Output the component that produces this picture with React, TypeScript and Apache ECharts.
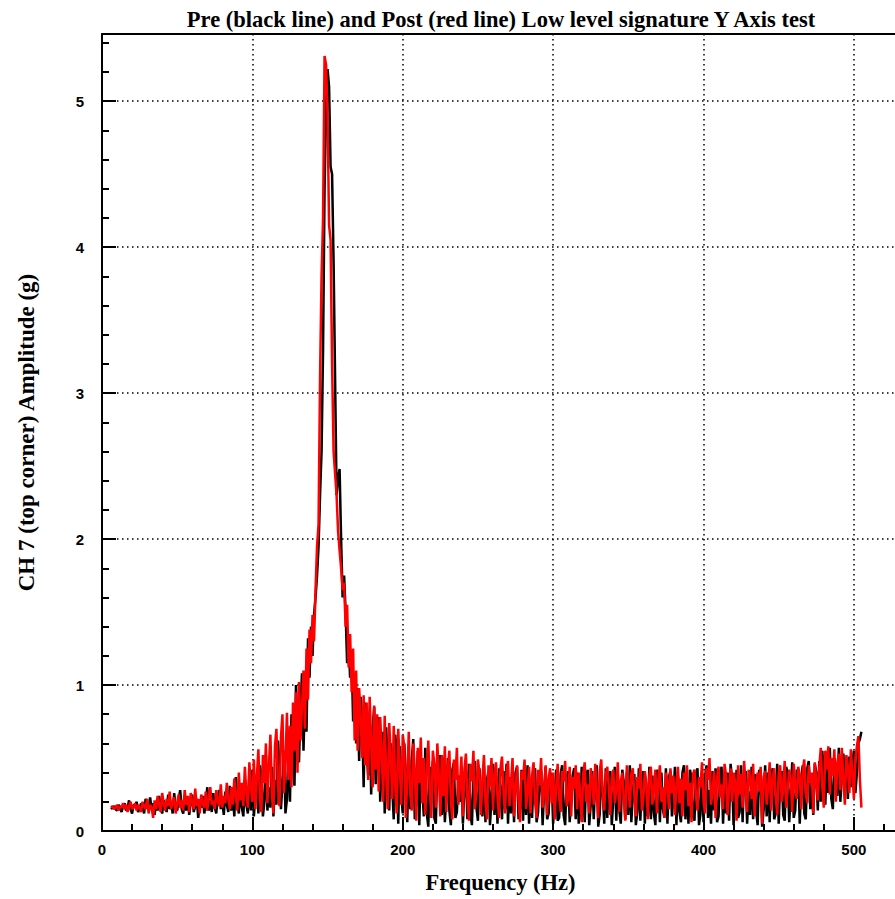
import React, { useEffect, useRef } from "react";
import * as echarts from "echarts";

// Sampling grid of the spectrum (Hz): one value per Hz from 6 Hz
const FREQ_START = 6;
const FREQ_STEP = 1;

// Pre test (black line) amplitude, g
const PRE = [
  0.15, 0.16, 0.17, 0.15, 0.14, 0.18, 0.16, 0.13, 0.17, 0.19,
  0.14, 0.16, 0.21, 0.15, 0.12, 0.18, 0.17, 0.20, 0.13, 0.15,
  0.19, 0.16, 0.12, 0.22, 0.18, 0.14, 0.23, 0.15, 0.19, 0.11,
  0.20, 0.14, 0.24, 0.16, 0.12, 0.21, 0.17, 0.13, 0.25, 0.15,
  0.19, 0.12, 0.26, 0.16, 0.14, 0.22, 0.28, 0.15, 0.12, 0.21,
  0.14, 0.23, 0.11, 0.19, 0.25, 0.13, 0.17, 0.22, 0.09, 0.20,
  0.16, 0.24, 0.12, 0.18, 0.30, 0.14, 0.21, 0.13, 0.26, 0.16,
  0.12, 0.24, 0.28, 0.15, 0.20, 0.11, 0.27, 0.18, 0.13, 0.31,
  0.14, 0.25, 0.10, 0.37, 0.20, 0.12, 0.30, 0.16, 0.10, 0.35,
  0.18, 0.12, 0.38, 0.14, 0.42, 0.10, 0.25, 0.36, 0.12, 0.45,
  0.38, 0.10, 0.20, 0.52, 0.14, 0.30, 0.16, 0.44, 0.10, 0.35,
  0.18, 0.62, 0.45, 0.15, 0.33, 0.55, 0.12, 0.22, 0.60, 0.20,
  0.80, 0.45, 0.31, 1.00, 0.60, 0.47, 0.85, 1.08, 0.55, 0.95,
  0.68, 1.32, 1.05, 1.40, 1.20, 1.48, 1.60, 1.75, 1.95, 2.30,
  2.60, 3.30, 4.40, 4.95, 5.22, 5.10, 4.55, 4.50, 3.90, 3.10,
  2.30, 2.42, 2.48, 2.00, 1.60, 1.75, 1.50, 1.15, 1.30, 1.05,
  1.20, 0.75, 1.05, 0.60, 0.98, 0.48, 0.92, 0.75, 0.30, 0.88,
  0.55, 0.38, 0.80, 0.25, 0.70, 0.85, 0.32, 0.60, 0.78, 0.20,
  0.48, 0.68, 0.12, 0.71, 0.40, 0.14, 0.60, 0.30, 0.08, 0.66,
  0.52, 0.05, 0.58, 0.25, 0.12, 0.60, 0.40, 0.06, 0.52, 0.15,
  0.48, 0.63, 0.08, 0.20, 0.55, 0.04, 0.46, 0.30, 0.10, 0.57,
  0.12, 0.03, 0.44, 0.22, 0.48, 0.09, 0.05, 0.45, 0.33, 0.52,
  0.11, 0.40, 0.06, 0.25, 0.50, 0.14, 0.04, 0.42, 0.47, 0.09,
  0.13, 0.38, 0.20, 0.44, 0.05, 0.30, 0.41, 0.08, 0.46, 0.12,
  0.04, 0.39, 0.48, 0.16, 0.07, 0.43, 0.26, 0.10, 0.45, 0.06,
  0.35, 0.41, 0.04, 0.22, 0.46, 0.11, 0.37, 0.05, 0.43, 0.29,
  0.08, 0.41, 0.15, 0.46, 0.05, 0.37, 0.12, 0.43, 0.06, 0.40,
  0.44, 0.08, 0.15, 0.42, 0.07, 0.38, 0.11, 0.45, 0.05, 0.33,
  0.09, 0.39, 0.43, 0.06, 0.13, 0.36, 0.41, 0.04, 0.28, 0.44,
  0.08, 0.12, 0.40, 0.37, 0.05, 0.24, 0.42, 0.07, 0.09, 0.39,
  0.45, 0.11, 0.04, 0.36, 0.41, 0.06, 0.20, 0.38, 0.43, 0.08,
  0.40, 0.05, 0.13, 0.44, 0.30, 0.06, 0.37, 0.42, 0.04, 0.18,
  0.41, 0.08, 0.35, 0.45, 0.03, 0.12, 0.40, 0.27, 0.05, 0.43,
  0.09, 0.36, 0.41, 0.04, 0.22, 0.44, 0.07, 0.38, 0.14, 0.05,
  0.42, 0.33, 0.08, 0.40, 0.11, 0.45, 0.06, 0.25, 0.39, 0.04,
  0.13, 0.43, 0.07, 0.36, 0.41, 0.05, 0.30, 0.10, 0.44, 0.08,
  0.38, 0.12, 0.04, 0.42, 0.35, 0.06, 0.40, 0.15, 0.09, 0.43,
  0.05, 0.37, 0.41, 0.10, 0.24, 0.44, 0.04, 0.38, 0.13, 0.06,
  0.40, 0.45, 0.08, 0.31, 0.05, 0.42, 0.36, 0.11, 0.07, 0.39,
  0.43, 0.04, 0.12, 0.40, 0.06, 0.37, 0.45, 0.09, 0.28, 0.05,
  0.41, 0.14, 0.43, 0.06, 0.10, 0.38, 0.44, 0.05, 0.33, 0.12,
  0.40, 0.07, 0.46, 0.36, 0.04, 0.22, 0.42, 0.09, 0.13, 0.45,
  0.06, 0.38, 0.41, 0.05, 0.27, 0.11, 0.44, 0.08, 0.39, 0.14,
  0.04, 0.42, 0.35, 0.03, 0.15, 0.45, 0.10, 0.40, 0.06, 0.37,
  0.43, 0.08, 0.12, 0.46, 0.05, 0.34, 0.41, 0.11, 0.07, 0.44,
  0.39, 0.06, 0.25, 0.47, 0.09, 0.14, 0.42, 0.40, 0.05, 0.36,
  0.45, 0.12, 0.08, 0.43, 0.48, 0.15, 0.30, 0.11, 0.46, 0.40,
  0.14, 0.48, 0.20, 0.55, 0.36, 0.18, 0.52, 0.26, 0.57, 0.22,
  0.15, 0.50, 0.44, 0.24, 0.57, 0.20, 0.38, 0.53, 0.30, 0.46,
  0.22, 0.51, 0.30, 0.46, 0.55, 0.26, 0.40, 0.60, 0.63, 0.68,
];

// Post test (red line) amplitude, g
const POST = [
  0.16, 0.17, 0.15, 0.16, 0.18, 0.14, 0.17, 0.16, 0.19, 0.15,
  0.18, 0.13, 0.17, 0.20, 0.15, 0.16, 0.19, 0.14, 0.18, 0.16,
  0.13, 0.20, 0.17, 0.15, 0.22, 0.12, 0.18, 0.16, 0.09, 0.21,
  0.15, 0.24, 0.18, 0.13, 0.26, 0.19, 0.14, 0.22, 0.17, 0.27,
  0.15, 0.20, 0.23, 0.12, 0.19, 0.25, 0.16, 0.21, 0.14, 0.28,
  0.18, 0.24, 0.13, 0.26, 0.20, 0.15, 0.29, 0.17, 0.22, 0.12,
  0.25, 0.19, 0.16, 0.27, 0.14, 0.23, 0.30, 0.18, 0.21, 0.15,
  0.28, 0.20, 0.17, 0.32, 0.16, 0.24, 0.19, 0.33, 0.22, 0.15,
  0.30, 0.18, 0.36, 0.24, 0.14, 0.40, 0.21, 0.33, 0.17, 0.44,
  0.26, 0.16, 0.47, 0.30, 0.20, 0.49, 0.15, 0.38, 0.56, 0.22,
  0.13, 0.52, 0.33, 0.60, 0.19, 0.45, 0.66, 0.24, 0.12, 0.58,
  0.70, 0.31, 0.17, 0.64, 0.80, 0.26, 0.48, 0.81, 0.35, 0.72,
  0.30, 0.88, 0.55, 0.95, 0.40, 1.02, 0.62, 0.85, 1.10, 0.70,
  1.25, 0.90, 1.38, 1.15, 1.48, 1.30, 1.65, 1.95, 2.10, 3.10,
  3.80, 4.20, 5.31, 5.25, 4.90, 4.15, 4.05, 3.20, 2.60, 2.45,
  2.30, 2.05, 1.92, 1.80, 1.65, 1.70, 1.40, 1.55, 1.12, 1.35,
  0.95, 1.25, 0.62, 1.10, 0.55, 0.98, 0.78, 0.50, 0.93, 0.45,
  0.88, 0.35, 0.92, 0.60, 0.30, 0.86, 0.42, 0.80, 0.27, 0.78,
  0.55, 0.20, 0.79, 0.38, 0.15, 0.74, 0.52, 0.22, 0.72, 0.30,
  0.12, 0.70, 0.45, 0.18, 0.66, 0.58, 0.09, 0.35, 0.68, 0.25,
  0.14, 0.60, 0.42, 0.07, 0.57, 0.33, 0.64, 0.19, 0.50, 0.11,
  0.40, 0.62, 0.28, 0.09, 0.55, 0.46, 0.16, 0.60, 0.37, 0.10,
  0.52, 0.24, 0.58, 0.13, 0.44, 0.55, 0.20, 0.08, 0.49, 0.35,
  0.57, 0.18, 0.30, 0.51, 0.10, 0.42, 0.53, 0.22, 0.07, 0.46,
  0.34, 0.55, 0.15, 0.27, 0.49, 0.40, 0.11, 0.36, 0.52, 0.19,
  0.08, 0.45, 0.30, 0.50, 0.14, 0.38, 0.47, 0.23, 0.09, 0.43,
  0.51, 0.26, 0.12, 0.40, 0.48, 0.17, 0.33, 0.50, 0.10, 0.29,
  0.45, 0.21, 0.06, 0.41, 0.35, 0.49, 0.15, 0.27, 0.44, 0.12,
  0.38, 0.47, 0.20, 0.09, 0.42, 0.31, 0.50, 0.16, 0.25, 0.45,
  0.11, 0.36, 0.43, 0.19, 0.40, 0.08, 0.30, 0.46, 0.24, 0.13,
  0.41, 0.34, 0.48, 0.17, 0.22, 0.44, 0.10, 0.37, 0.29, 0.45,
  0.15, 0.40, 0.26, 0.06, 0.39, 0.47, 0.20, 0.32, 0.12, 0.43,
  0.35, 0.18, 0.46, 0.27, 0.09, 0.41, 0.49, 0.23, 0.14, 0.38,
  0.44, 0.30, 0.11, 0.36, 0.42, 0.19, 0.28, 0.47, 0.13, 0.34,
  0.40, 0.21, 0.07, 0.45, 0.31, 0.16, 0.39, 0.43, 0.25, 0.10,
  0.37, 0.29, 0.46, 0.14, 0.22, 0.41, 0.33, 0.08, 0.38, 0.44,
  0.18, 0.27, 0.42, 0.12, 0.35, 0.45, 0.20, 0.30, 0.09, 0.40,
  0.34, 0.15, 0.43, 0.26, 0.38, 0.11, 0.31, 0.44, 0.19, 0.36,
  0.10, 0.40, 0.28, 0.45, 0.17, 0.33, 0.06, 0.39, 0.42, 0.24,
  0.14, 0.37, 0.30, 0.47, 0.21, 0.12, 0.43, 0.35, 0.50, 0.18,
  0.27, 0.41, 0.09, 0.36, 0.44, 0.23, 0.32, 0.15, 0.46, 0.38,
  0.11, 0.29, 0.43, 0.20, 0.40, 0.34, 0.07, 0.45, 0.25, 0.39,
  0.16, 0.48, 0.31, 0.13, 0.42, 0.36, 0.22, 0.46, 0.10, 0.33,
  0.40, 0.27, 0.44, 0.05, 0.37, 0.41, 0.18, 0.30, 0.47, 0.14,
  0.35, 0.43, 0.24, 0.11, 0.39, 0.45, 0.20, 0.32, 0.48, 0.16,
  0.28, 0.42, 0.36, 0.13, 0.46, 0.30, 0.22, 0.44, 0.38, 0.15,
  0.41, 0.49, 0.26, 0.19, 0.45, 0.33, 0.40, 0.12, 0.47, 0.35,
  0.21, 0.44, 0.57, 0.30, 0.16, 0.55, 0.42, 0.58, 0.25, 0.50,
  0.38, 0.56, 0.20, 0.47, 0.53, 0.28, 0.57, 0.35, 0.18, 0.52,
  0.44, 0.26, 0.56, 0.40, 0.22, 0.50, 0.58, 0.65, 0.35, 0.16,
];

const TITLE = "Pre (black line) and Post (red line) Low level signature Y Axis test";
const X_NAME = "Frequency (Hz)";
const Y_NAME = "CH 7 (top corner) Amplitude (g)";
const X_MIN = 0;
const X_MAX = 530;
const X_INTERVAL = 100;
const Y_MIN = 0;
const Y_MAX = 5.46;
const Y_INTERVAL = 1;

export default function App() {
  const ref = useRef<HTMLDivElement>(null);

  useEffect(() => {
    if (!ref.current) return;
    const chart = echarts.init(ref.current, undefined, { renderer: "svg" });

    const pre = PRE.map((v, i) => [FREQ_START + FREQ_STEP * i, v]);
    const post = POST.map((v, i) => [FREQ_START + FREQ_STEP * i, v]);

    const dotted = { color: "#000", width: 1.5, type: [1.5, 3.5] as any };
    const serifBold = { fontFamily: "Liberation Serif", fontWeight: "bold" as const, color: "#000" };
    const sansBold = { fontFamily: "Liberation Sans", fontWeight: "bold" as const, color: "#000" };

    chart.setOption({
      animation: false,
      backgroundColor: "#fff",
      grid: { left: 102, top: 34, right: 6, bottom: 67, containLabel: false },
      graphic: [
        {
          type: "text",
          x: 501,
          y: 19,
          style: {
            text: TITLE,
            textAlign: "center",
            textVerticalAlign: "middle",
            fontSize: 22.5,
            fontFamily: "Liberation Serif",
            fontWeight: "bold",
            fill: "#000",
          },
        },
      ],
      xAxis: [
        {
          type: "value",
          position: "bottom",
          min: X_MIN,
          max: X_MAX,
          interval: X_INTERVAL,
          name: X_NAME,
          nameLocation: "middle",
          nameGap: 40,
          nameTextStyle: { ...serifBold, fontSize: 22.5 },
          axisLine: { show: true, lineStyle: { color: "#000", width: 2 } },
          axisTick: { show: true, inside: true, length: 14, lineStyle: { color: "#000", width: 2 } },
          minorTick: { show: true, splitNumber: 5, length: 7, lineStyle: { color: "#000", width: 2 } },
          axisLabel: { ...sansBold, fontSize: 15, margin: 11, showMaxLabel: false },
          splitLine: { show: true, lineStyle: dotted },
          minorSplitLine: { show: false },
        },
        {
          type: "value",
          position: "top",
          min: X_MIN,
          max: X_MAX,
          axisLine: { show: true, lineStyle: { color: "#000", width: 2 } },
          axisTick: { show: false },
          axisLabel: { show: false },
          splitLine: { show: false },
        },
      ],
      yAxis: {
        type: "value",
        min: Y_MIN,
        max: Y_MAX,
        interval: Y_INTERVAL,
        name: Y_NAME,
        nameLocation: "middle",
        nameGap: 64,
        nameTextStyle: { ...serifBold, fontSize: 23 },
        axisLine: { show: true, lineStyle: { color: "#000", width: 2 } },
        axisTick: { show: true, inside: true, length: 14, lineStyle: { color: "#000", width: 2 } },
        minorTick: { show: true, splitNumber: 5, length: 7, lineStyle: { color: "#000", width: 2 } },
        axisLabel: { ...sansBold, fontSize: 15, margin: 18, showMaxLabel: false },
        splitLine: { show: true, lineStyle: dotted },
        minorSplitLine: { show: false },
      },
      series: [
        {
          name: "Pre",
          type: "line",
          xAxisIndex: 0,
          data: pre,
          showSymbol: false,
          lineStyle: { color: "#000", width: 2.5 },
          itemStyle: { color: "#000" },
        },
        {
          name: "Post",
          type: "line",
          xAxisIndex: 0,
          data: post,
          showSymbol: false,
          lineStyle: { color: "#ff0000", width: 2.5 },
          itemStyle: { color: "#ff0000" },
        },
      ],
    });

    return () => chart.dispose();
  }, []);

  return (
    <div
      style={{
        position: "fixed",
        left: 0,
        top: 0,
        width: 895,
        height: 899,
        overflow: "hidden",
        background: "#fff",
      }}
    >
      <div ref={ref} style={{ width: 905, height: 899 }} />
    </div>
  );
}
